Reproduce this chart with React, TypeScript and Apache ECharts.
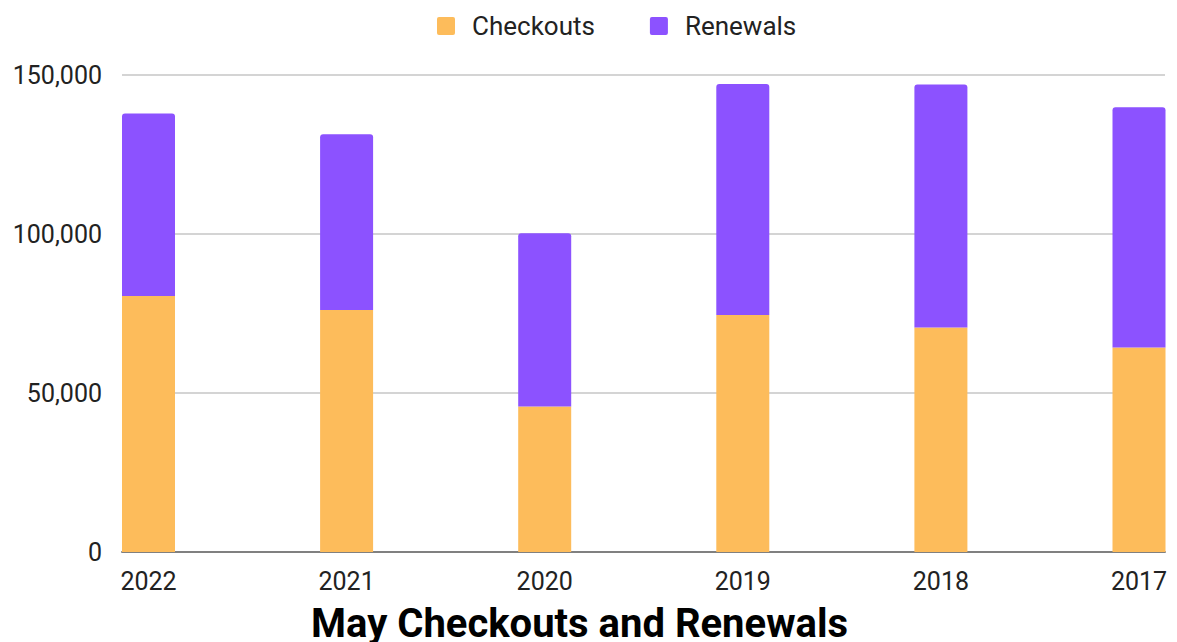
import React, { useEffect, useRef } from "react";
import * as echarts from "echarts";

const years = ["2022", "2021", "2020", "2019", "2018", "2017"];
const checkouts = [80530, 76130, 45770, 74560, 70570, 64300];
const renewals = [57350, 55260, 54440, 72620, 76420, 75560];
const yTicks = { min: 0, max: 150000, interval: 50000 };

const ORANGE = "#FDBC5B";
const PURPLE = "#8C52FF";
const FONT = "Roboto";

export default function App() {
  const ref = useRef<HTMLDivElement>(null);
  useEffect(() => {
    if (!ref.current) return;
    const chart = echarts.init(ref.current, undefined, { renderer: "svg" });
    const fmt = (v: number) => v.toLocaleString("en-US");
    chart.setOption({
      animation: false,
      backgroundColor: "#ffffff",
      textStyle: { fontFamily: FONT },
      title: {
        text: "May Checkouts and Renewals",
        left: 311,
        top: 603,
        padding: 0,
        textStyle: { fontFamily: FONT, fontSize: 40, fontWeight: "bold", color: "#000" },
      },
      legend: {
        top: 13,
        left: 437,
        padding: 0,
        itemWidth: 18,
        itemHeight: 18,
        itemGap: 55,
        icon: "path://M2,0 L16,0 Q18,0 18,2 L18,16 Q18,18 16,18 L2,18 Q0,18 0,16 L0,2 Q0,0 2,0 Z",
        textStyle: { fontFamily: FONT, fontSize: 26, color: "#222", padding: [0, 0, 0, 12] },
        data: ["Checkouts", "Renewals"],
      },
      grid: [
        { left: 122, right: 12, top: 75, bottom: 90 },
        { left: 148.5, right: 38, top: 75, bottom: 90 },
      ],
      xAxis: [
        {
          type: "category",
          gridIndex: 0,
          data: years,
          axisLine: { show: true, lineStyle: { color: "#808080", width: 2 } },
          axisTick: { show: false },
          axisLabel: { show: false },
        },
        {
          type: "category",
          gridIndex: 1,
          data: years,
          boundaryGap: false,
          axisLine: { show: false },
          axisTick: { show: false },
          axisLabel: { fontFamily: FONT, fontSize: 25, color: "#222", margin: 17 },
        },
      ],
      yAxis: [
        {
          type: "value",
          gridIndex: 0,
          ...yTicks,
          axisLine: { show: false },
          axisTick: { show: false },
          axisLabel: { fontFamily: FONT, fontSize: 25, color: "#222", margin: 20, formatter: fmt },
          splitLine: { lineStyle: { color: "#c6c6c6", width: 1.5 } },
        },
        {
          type: "value",
          gridIndex: 1,
          ...yTicks,
          show: false,
          splitLine: { show: false },
        },
      ],
      series: [
        {
          name: "Checkouts",
          type: "bar",
          stack: "total",
          xAxisIndex: 1,
          yAxisIndex: 1,
          barWidth: 53,
          clip: false,
          itemStyle: { color: ORANGE },
          data: checkouts,
        },
        {
          name: "Renewals",
          type: "bar",
          stack: "total",
          xAxisIndex: 1,
          yAxisIndex: 1,
          barWidth: 53,
          clip: false,
          itemStyle: { color: PURPLE, borderRadius: [3, 3, 0, 0] },
          data: renewals,
        },
      ],
    });
    return () => chart.dispose();
  }, []);
  return (
    <div
      ref={ref}
      style={{ position: "fixed", left: 0, top: 0, width: 1177, height: 642 }}
    />
  );
}
